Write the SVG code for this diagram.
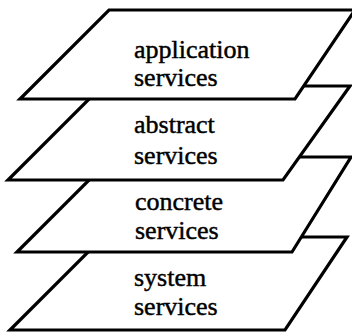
<svg xmlns="http://www.w3.org/2000/svg" width="352" height="332" viewBox="0 0 352 332">
  <style>
    .plane { fill: #ffffff; stroke: #000000; stroke-width: 3.2; stroke-linejoin: miter; }
    .label { font-family: "Liberation Serif", "Times New Roman", serif; font-size: 26px; fill: #000000; stroke: #000000; stroke-width: 0.45; }
  </style>
  <rect width="352" height="332" fill="#ffffff"/>

  <!-- layers are painted bottom-up so each plane hides the one beneath it -->
  <g id="system-services">
    <polygon class="plane" points="10,330 285,330 347,237 103,237"/>
    <text class="label" x="134" y="286">system</text>
    <text class="label" x="134" y="315">services</text>
  </g>

  <g id="concrete-services">
    <polygon class="plane" points="17,252 292,252 351,157 112,157"/>
    <text class="label" x="135" y="210">concrete</text>
    <text class="label" x="135" y="239">services</text>
  </g>

  <g id="abstract-services">
    <polygon class="plane" points="8,180 283,180 350,86 102,86"/>
    <text class="label" x="134" y="133">abstract</text>
    <text class="label" x="134" y="164">services</text>
  </g>

  <g id="application-services">
    <polygon class="plane" points="20,99 295,99 355,10 109,10"/>
    <text class="label" x="134" y="58">application</text>
    <text class="label" x="134" y="86">services</text>
  </g>
</svg>
